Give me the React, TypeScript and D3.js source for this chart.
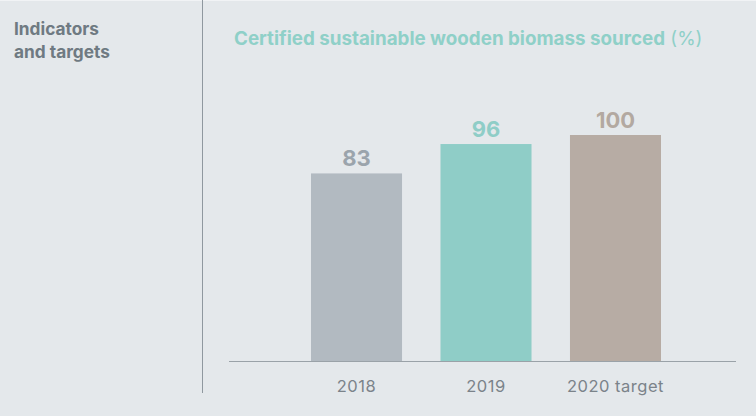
import React from "react";
import * as d3 from "d3";

const categories = ["2018", "2019", "2020 target"];
const values = [83, 96, 100];
const barColors = ["#b2bac1", "#8fcdc7", "#b7aca4"];
const labelColors = ["#9ba4ac", "#8fcdc7", "#b3a9a1"];

const W = 756;
const H = 416;
const FONT = "Inter, 'Noto Sans', sans-serif";

export default function App() {
  const baseY = 361;
  // bands sit between x=311 and x=661
  const x = d3
    .scaleBand()
    .domain(categories)
    .range([311, 661])
    .paddingInner(0.297)
    .paddingOuter(0);
  const y = d3.scaleLinear().domain([0, 100]).range([baseY, 135]);

  return (
    <svg
      width={W}
      height={H}
      style={{ position: "absolute", left: 0, top: 0, background: "#e4e8eb" }}
    >
      <rect x={0} y={0} width={W} height={H} fill="#e4e8eb" />
      <line x1={0} x2={W} y1={0.5} y2={0.5} stroke="#f1f3f5" />
      {/* left column */}
      <text x={14} y={35} fontFamily={FONT} fontWeight={700} fontSize={17.3} fill="#6f7a82">
        Indicators
      </text>
      <text x={14} y={58} fontFamily={FONT} fontWeight={700} fontSize={17.3} fill="#6f7a82">
        and targets
      </text>
      <line x1={202.5} x2={202.5} y1={0} y2={393} stroke="#8f989f" />

      {/* title */}
      <text x={234} y={45} fontFamily={FONT} fontSize={18.8} fill="#8fd0c8">
        <tspan fontWeight={700}>Certified sustainable wooden biomass sourced</tspan>
        <tspan fontWeight={400}> (%)</tspan>
      </text>

      {/* bars */}
      {categories.map((c, i) => (
        <g key={c}>
          <rect
            x={x(c)}
            y={y(values[i])}
            width={x.bandwidth()}
            height={baseY - y(values[i])}
            fill={barColors[i]}
          />
          <text
            x={(x(c) as number) + x.bandwidth() / 2}
            y={y(values[i]) - 7}
            textAnchor="middle"
            fontFamily={FONT}
            fontWeight={700}
            fontSize={22}
            fill={labelColors[i]}
          >
            {values[i]}
          </text>
          <text
            x={(x(c) as number) + x.bandwidth() / 2}
            y={392}
            textAnchor="middle"
            fontFamily={FONT}
            fontSize={16.5}
            letterSpacing={0.5}
            fill="#7b838a"
          >
            {c}
          </text>
        </g>
      ))}

      {/* baseline */}
      <line x1={229} x2={736} y1={baseY + 0.5} y2={baseY + 0.5} stroke="#9aa2a8" strokeWidth={1} />
    </svg>
  );
}
